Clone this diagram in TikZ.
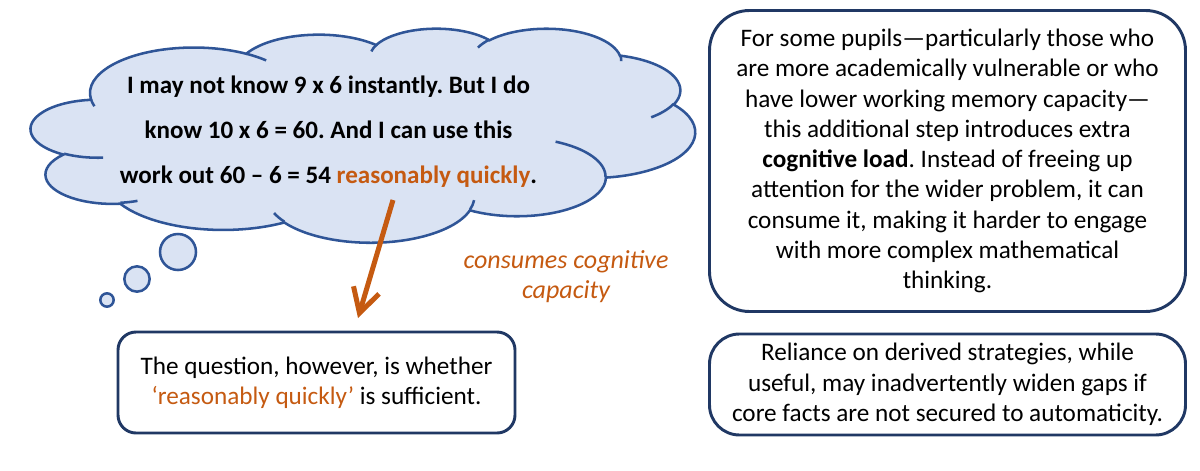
\documentclass[tikz,border=0pt]{standalone}
\usepackage{fontspec}
\setmainfont{Carlito}
\usetikzlibrary{arrows.meta}
\definecolor{cloudfill}{HTML}{DAE3F3}
\definecolor{cloudline}{HTML}{2F5597}
\definecolor{navy}{HTML}{203864}
\definecolor{orng}{HTML}{C55A11}
\frenchspacing
\begin{document}
\frenchspacing
\begin{tikzpicture}[x=0.75pt,y=-0.75pt,
  declare function={ooang(\a,\w,\h)=\a+mod(atan2(\w*sin(\a),\h*cos(\a))-\a+540,360)-180;},
  cloudshape/.style={fill=cloudfill, draw=cloudline, line width=1.9pt},
  cloudinner/.style={draw=cloudline, line width=1.9pt},
  bubble/.style={circle, fill=cloudfill, draw=cloudline, line width=1.9pt, inner sep=0pt},
  box/.style={draw=navy, line width=2.2pt, fill=white, align=center, inner sep=0pt,
    font=\fontsize{18.9}{22.7}\selectfont},
  arrowline/.style={draw=orng, line width=3.75pt, -{Straight Barb[length=18pt,width=20pt]}}]
\useasboundingbox (0,0) rectangle (1200,471);

% cloud
\begin{scope}[shift={(31,28)}, x=11.528pt, y=-3.715pt]
\path[cloudshape] (3.900,14.370)
 arc[start angle={ooang(-190.48748,6.753,9.190)}, end angle={ooang(-66.70695,6.753,9.190)}, x radius=6.753, y radius=9.190]
 arc[start angle={ooang(-144.10238,5.333,7.267)}, end angle={ooang(-54.15715,5.333,7.267)}, x radius=5.333, y radius=7.267]
 arc[start angle={ooang(-145.80792,4.365,5.945)}, end angle={ooang(-46.08490,4.365,5.945)}, x radius=4.365, y radius=5.945]
 arc[start angle={ooang(-130.98607,4.857,6.595)}, end angle={ooang(-13.74434,4.857,6.595)}, x radius=4.857, y radius=6.595]
 arc[start angle={ooang(-78.70888,5.333,7.273)}, end angle={ooang(30.31804,5.333,7.273)}, x radius=5.333, y radius=7.273]
 arc[start angle={ooang(-46.26725,6.775,9.220)}, end angle={ooang(84.00175,6.775,9.220)}, x radius=6.775, y radius=9.220]
 arc[start angle={ooang(0.62502,5.785,7.867)}, end angle={ooang(114.65835,5.785,7.867)}, x radius=5.785, y radius=7.867]
 arc[start angle={ooang(22.45160,6.752,9.215)}, end angle={ooang(137.62415,6.752,9.215)}, x radius=6.752, y radius=9.215]
 arc[start angle={ooang(66.24263,7.720,10.543)}, end angle={ooang(141.95365,7.720,10.543)}, x radius=7.720, y radius=10.543]
 arc[start angle={ooang(-274.94208,4.360,5.918)}, end angle={ooang(-128.20651,4.360,5.918)}, x radius=4.360, y radius=5.918]
 arc[start angle={ooang(-246.82850,4.345,5.945)}, end angle={ooang(-94.30965,4.345,5.945)}, x radius=4.345, y radius=5.945]
 -- cycle;
\path[cloudinner]
 (4.693,26.177) arc[start angle={ooang(86.742,4.345,5.945)}, end angle={ooang(113.1715,4.345,5.945)}, x radius=4.345, y radius=5.945]
 (6.928,34.899) arc[start angle={ooang(73.61047,4.360,5.918)}, end angle={ooang(85.05794,4.360,5.918)}, x radius=4.360, y radius=5.918]
 (16.478,39.090) arc[start angle={ooang(137.62415,6.752,9.215)}, end angle={ooang(151.70525,6.752,9.215)}, x radius=6.752, y radius=9.215]
 (28.827,34.751) arc[start angle={ooang(6.45327,6.752,9.215)}, end angle={ooang(22.45162,6.752,9.215)}, x radius=6.752, y radius=9.215]
 (34.129,22.954) arc[start angle={ooang(-70.29235,5.785,7.867)}, end angle={ooang(0.62502,5.785,7.867)}, x radius=5.785, y radius=7.867]
 (41.798,15.354) arc[start angle={ooang(30.31803,5.333,7.273)}, end angle={ooang(58.06953,5.333,7.273)}, x radius=5.333, y radius=7.273]
 (38.324,5.426) arc[start angle={ooang(-13.74433,4.857,6.595)}, end angle={ooang(1.11457,4.857,6.595)}, x radius=4.857, y radius=6.595]
 (29.078,3.952) arc[start angle={ooang(-149.18145,4.857,6.595)}, end angle={ooang(-130.98608,4.857,6.595)}, x radius=4.857, y radius=6.595]
 (22.141,4.720) arc[start angle={ooang(-163.49427,4.365,5.945)}, end angle={ooang(-145.80792,4.365,5.945)}, x radius=4.365, y radius=5.945]
 (14.000,5.192) arc[start angle={ooang(-66.70695,6.753,9.190)}, end angle={ooang(-54.38760,6.753,9.190)}, x radius=6.753, y radius=9.190]
 (4.127,15.789) arc[start angle={ooang(157.65435,6.753,9.190)}, end angle={ooang(169.51252,6.753,9.190)}, x radius=6.753, y radius=9.190];
\end{scope}

% thought bubbles
\node[bubble, minimum size=27pt] (b1) at (178,252) {};
\node[bubble, minimum size=19pt] (b2) at (137,279) {};
\node[bubble, minimum size=10pt] (b3) at (107,300) {};

% cloud text
\node[font=\bfseries\fontsize{18.8}{33.75}\selectfont, align=center] (thought) at (328.5,132)
 {I may not know 9 x 6 instantly. But I do\\know 10 x 6 = 60. And I can use this\\work out 60 – 6 = 54 \textcolor{orng}{reasonably quickly}.};

% boxes
\node[box, rounded corners=13.5pt, minimum width=297.75pt, minimum height=75.75pt] (question) at (316.5,382.5)
 {The question, however, is whether\\\textcolor{orng}{‘reasonably quickly’} is sufficient.};
\node[box, rounded corners=30pt, minimum width=357pt, minimum height=225.75pt] (pupils) at (947.5,161)
 {For some pupils—particularly those who\\are more academically vulnerable or who\\have lower working memory capacity—\\this additional step introduces extra\\\textbf{cognitive load}. Instead of freeing up\\attention for the wider problem, it can\\consume it, making it harder to engage\\with more complex mathematical\\thinking.};
\node[box, rounded corners=22.5pt, minimum width=357pt, minimum height=75.75pt] (reliance) at (947.5,384.5)
 {Reliance on derived strategies, while\\useful, may inadvertently widen gaps if\\core facts are not secured to automaticity.};

% arrow and label
\coordinate (astart) at (393,200);
\coordinate (aend) at (358,318);
\draw[arrowline] (astart) -- (aend);
\node[font=\itshape\fontsize{19.5}{22.5}\selectfont, text=orng, align=center] (consumes) at (566,277)
 {consumes cognitive\\capacity};
\end{tikzpicture}
\end{document}
